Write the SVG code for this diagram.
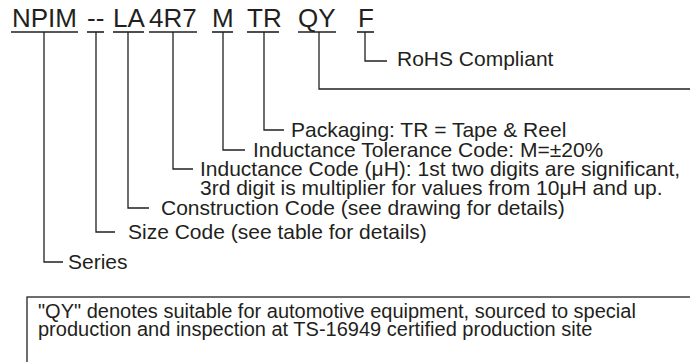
<svg xmlns="http://www.w3.org/2000/svg" width="690" height="362" viewBox="0 0 690 362">
<style>
.code{font-family:"Liberation Sans",Arial,sans-serif;font-size:26px;fill:#231f20}
.lbl{font-family:"Liberation Sans",Arial,sans-serif;font-size:21px;fill:#231f20}
.note{font-family:"Liberation Sans",Arial,sans-serif;font-size:20px;fill:#231f20}
.ul{stroke:#231f20;stroke-width:1.6;fill:none}
.ln{stroke:#231f20;stroke-width:1.3;fill:none}
</style>
<rect width="690" height="362" fill="#fff"/>
<g id="codes">
<g id="n-npim"><text class="code" x="12" y="27">NPIM</text><line class="ul" x1="11" y1="32" x2="78" y2="32"/></g>
<g id="n-size"><text class="code" x="87" y="27">--</text><line class="ul" x1="87" y1="32" x2="104" y2="32"/></g>
<g id="n-la"><text class="code" x="113" y="27">LA</text><line class="ul" x1="113" y1="32" x2="144" y2="32"/></g>
<g id="n-4r7"><text class="code" x="149" y="27">4R7</text><line class="ul" x1="149" y1="32" x2="197" y2="32"/></g>
<g id="n-m"><text class="code" x="212" y="27">M</text><line class="ul" x1="212" y1="32" x2="233" y2="32"/></g>
<g id="n-tr"><text class="code" x="247" y="27">TR</text><line class="ul" x1="247" y1="32" x2="279" y2="32"/></g>
<g id="n-qy"><text class="code" x="298" y="27">QY</text><line class="ul" x1="298" y1="32" x2="336" y2="32"/></g>
<g id="n-f"><text class="code" x="358" y="27">F</text><line class="ul" x1="357" y1="32" x2="374" y2="32"/></g>
</g>
<g id="connectors">
<polyline class="ln" points="365,32 365,61 387,61"/>
<polyline class="ln" points="319,32 319,89 690,89"/>
<polyline class="ln" points="264,32 264,130 284,130"/>
<polyline class="ln" points="223,32 223,150 245,150"/>
<polyline class="ln" points="173,32 173,169 193,169"/>
<polyline class="ln" points="128,32 128,208 149,208"/>
<polyline class="ln" points="96,32 96,232 115,232"/>
<polyline class="ln" points="44,32 44,262 63,262"/>
</g>
<g id="labels">
<text id="l-rohs" class="lbl" x="397" y="66">RoHS Compliant</text>
<text id="l-pack" class="lbl" x="291" y="137">Packaging: TR = Tape &amp; Reel</text>
<text id="l-tol" class="lbl" x="253" y="157">Inductance Tolerance Code: M=±20%</text>
<text id="l-ind" class="lbl" x="200" y="176">Inductance Code (μH): 1st two digits are significant,<tspan x="200" y="195">3rd digit is multiplier for values from 10μH and up.</tspan></text>
<text id="l-con" class="lbl" x="161" y="215">Construction Code (see drawing for details)</text>
<text id="l-size" class="lbl" x="128" y="239">Size Code (see table for details)</text>
<text id="l-ser" class="lbl" x="68" y="269">Series</text>
</g>
<g id="note">
<rect class="ln" x="27" y="297" width="700" height="100"/>
<text class="note" x="38" y="318">"QY" denotes suitable for automotive equipment, sourced to special<tspan x="38" y="336">production and inspection at TS-16949 certified production site</tspan></text>
</g>
</svg>
